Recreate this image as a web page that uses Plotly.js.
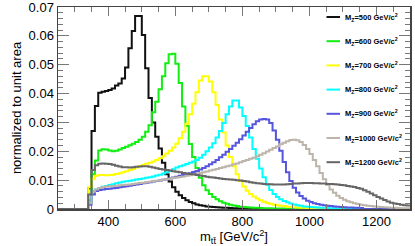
<!DOCTYPE html>
<html>
<head>
<meta charset="utf-8">
<script src="https://cdn.plot.ly/plotly-3.0.1.min.js"></script>
<style>html,body{margin:0;padding:0;background:#fff;}#chart{width:415px;height:246px;}</style>
</head>
<body>
<div id="chart"></div>
<script>
// ---- data ----
const histLow = 250;          // GeV, first bin edge of the histogram
const histHigh = 1300;        // GeV, last bin edge
const binWidth = 10;          // GeV
const firstFilled = 340;      // GeV, first bin that holds data below

const masses = [500, 600, 700, 800, 900, 1000, 1200];
const xTicks = [400, 600, 800, 1000, 1200];
const yTicks = [0, 0.01, 0.02, 0.03, 0.04, 0.05, 0.06, 0.07];
const yTickText = ['0', '0.01', '0.02', '0.03', '0.04', '0.05', '0.06', '0.07'];

const h500 = [0.0072,0.027,0.0357,0.0403,0.0406,0.0409,0.0412,0.0418,0.0428,0.0435,
  0.0452,0.049,0.0557,0.0617,0.0669,0.0669,0.0603,0.0488,0.0385,0.030,
  0.025,0.021,0.016,0.012,0.0095,0.0075,0.006,0.0048,0.0038,0.003,
  0.0024,0.002,0.0016,0.0013,0.0011,0.0009,0.0008,0.0007,0.0006,0.0005,
  0.00045,0.0004,0.00035,0.0003,0.00027,0.00024,0.00021,0.00019,0.00017,0.00015];

const h600 = [0.003,0.012,0.0168,0.0203,0.0207,0.0206,0.0203,0.0200,0.0202,0.0206,
  0.0211,0.0216,0.0221,0.0226,0.0232,0.0240,0.0250,0.0268,0.0290,0.0335,
  0.0372,0.0415,0.046,0.0505,0.0536,0.0538,0.0503,0.0437,0.0355,0.0288,
  0.0225,0.018,0.0142,0.0108,0.0082,0.0065,0.0052,0.0042,0.0034,0.0027,
  0.0022,0.0018,0.0015,0.0012,0.001,0.0008,0.0007,0.0006,0.0005,0.00045,
  0.0004,0.00035,0.0003,0.00027,0.00024,0.0002,0.00018,0.00016,0.00014,0.00012];

const h700 = [0.0075,0.0105,0.0115,0.0118,0.0118,0.0117,0.0118,0.0119,0.0121,0.0124,
  0.0127,0.0131,0.0135,0.0139,0.0144,0.0149,0.0153,0.0157,0.016,0.0165,
  0.017,0.0176,0.0183,0.0192,0.0202,0.0213,0.0226,0.0245,0.0268,0.0295,
  0.0328,0.0365,0.0405,0.0445,0.046,0.046,0.0442,0.0405,0.036,0.031,
  0.0265,0.022,0.018,0.0148,0.012,0.0097,0.0078,0.0063,0.0052,0.0043,
  0.0036,0.003,0.0025,0.0021,0.0018,0.0015,0.0013,0.0011,0.001,0.0008,
  0.0007,0.0006,0.0005,0.00045,0.0004,0.00035,0.0003,0.00025];

const h800 = [0.002,0.0063,0.0068,0.0073,0.0077,0.008,0.0083,0.0086,0.0089,0.0092,
  0.0094,0.0096,0.0098,0.01,0.0102,0.0104,0.0106,0.0108,0.011,0.0113,
  0.0116,0.0119,0.0123,0.0127,0.0132,0.0138,0.0144,0.0148,0.0152,0.0156,
  0.016,0.0165,0.017,0.0178,0.0188,0.02,0.0213,0.0228,0.0248,0.027,
  0.0298,0.0328,0.0355,0.0376,0.0376,0.0352,0.0322,0.0288,0.0248,0.0208,
  0.0174,0.014,0.011,0.0085,0.0066,0.0052,0.0042,0.0034,0.0028,0.0023,
  0.0019,0.0016,0.0013,0.0011,0.0009,0.0008,0.0007,0.0006,0.0005,0.00045,
  0.0004,0.00035,0.0003,0.00025];

const h900 = [0.0015,0.005,0.0062,0.0066,0.0068,0.0069,0.007,0.0072,0.0073,0.0075,
  0.0077,0.0079,0.0081,0.0083,0.0085,0.0087,0.0089,0.0091,0.0093,0.0095,
  0.0097,0.0099,0.0101,0.0103,0.0106,0.0109,0.0112,0.0115,0.0118,0.0121,
  0.0124,0.0128,0.0132,0.0137,0.0142,0.0148,0.0155,0.0162,0.017,0.0179,
  0.0188,0.0198,0.0208,0.0219,0.023,0.0242,0.0255,0.0268,0.0281,0.0294,
  0.0304,0.031,0.0312,0.031,0.0298,0.0272,0.024,0.0202,0.0163,0.0127,
  0.0097,0.0074,0.0057,0.0045,0.0036,0.0029,0.0024,0.002,0.0017,0.0015,
  0.0013,0.0011,0.001,0.0009,0.0008,0.0007,0.0006,0.00055,0.0005,0.00045,
  0.0004,0.00035];

const h1000 = [0.002,0.006,0.0068,0.0073,0.0076,0.0078,0.0079,0.008,0.0081,0.0082,
  0.0083,0.0084,0.0085,0.0087,0.0088,0.009,0.0091,0.0093,0.0094,0.0096,
  0.0098,0.01,0.0101,0.0103,0.0105,0.0107,0.0109,0.0111,0.0113,0.0115,
  0.0117,0.012,0.0122,0.0125,0.0127,0.013,0.0133,0.0136,0.0139,0.0142,
  0.0145,0.0148,0.0151,0.0155,0.0158,0.0162,0.0166,0.017,0.0174,0.0178,
  0.0183,0.0188,0.0193,0.0199,0.0205,0.0211,0.0217,0.0224,0.023,0.0235,
  0.0239,0.024,0.0238,0.0232,0.0222,0.0208,0.0191,0.017,0.0148,0.0125,
  0.0103,0.0084,0.0068,0.0056,0.0046,0.0038,0.0032,0.0027,0.0023,0.002,
  0.0017,0.0015,0.0013,0.0011,0.001,0.0009,0.0008,0.0007,0.0006,0.0005,
  0.00045,0.0004,0.00035,0.0003,0.0003,0.00025];

const h1200 = [0.005,0.0135,0.0152,0.0157,0.0158,0.0157,0.0156,0.0153,0.015,0.0147,
  0.0145,0.0145,0.0144,0.0145,0.0146,0.0147,0.0148,0.0148,0.0146,0.0144,
  0.0141,0.0139,0.0137,0.0135,0.0133,0.0131,0.0129,0.0127,0.0125,0.0123,
  0.0121,0.012,0.0118,0.0116,0.0114,0.0112,0.011,0.0109,0.0107,0.0106,
  0.0104,0.0103,0.0102,0.0101,0.01,0.0099,0.0097,0.0095,0.0093,0.0091,
  0.0089,0.0088,0.0087,0.0086,0.0086,0.0085,0.0085,0.0085,0.0085,0.0086,
  0.0087,0.0088,0.0088,0.0089,0.009,0.009,0.009,0.0089,0.0089,0.0088,
  0.0088,0.0087,0.0087,0.0086,0.0085,0.0083,0.0082,0.008,0.0078,0.0076,
  0.0073,0.007,0.0065,0.006,0.0054,0.0048,0.0042,0.0036,0.0031,0.0026,
  0.0022,0.0019,0.0017,0.0015,0.0013,0.0012];

const series = [h500, h600, h700, h800, h900, h1000, h1200];
const colors = ['#111111', '#11ee11', '#ffff00', '#00ffff', '#5555dd', '#bdb4aa', '#666666'];

// ---- build step histograms ----
const nBins = Math.round((histHigh - histLow) / binWidth);
const edges = [];
for (let i = 0; i <= nBins; i++) edges.push(histLow + i * binWidth);
const offset = Math.round((firstFilled - histLow) / binWidth);

const traces = series.map((vals, k) => {
  const y = [];
  for (let i = 0; i < nBins; i++) {
    const j = i - offset;
    y.push(j >= 0 && j < vals.length ? vals[j] : 0);
  }
  y.push(y[y.length - 1]);
  return {
    type: 'scatter', mode: 'lines', x: edges, y: y,
    line: {shape: 'hv', color: colors[k], width: 2},
    showlegend: false, hoverinfo: 'skip'
  };
});

// ---- legend (drawn as shapes + annotations) ----
const L = 58, R = 5, T = 7, B = 37, W = 415, H = 246;
const pw = W - L - R, ph = H - T - B;
const px2x = p => (p - L) / pw;
const py2y = p => (H - B - p) / ph;
const shapes = [], annotations = [];
masses.forEach((m, i) => {
  const yp = 17 + i * 24.2;
  shapes.push({type: 'line', xref: 'paper', yref: 'paper',
    x0: px2x(326.5), x1: px2x(340), y0: py2y(yp), y1: py2y(yp),
    line: {color: colors[i], width: 2}});
  annotations.push({xref: 'paper', yref: 'paper', x: px2x(342.5), y: py2y(yp),
    xanchor: 'left', yanchor: 'middle', showarrow: false,
    text: '<b>M<sub>Z</sub>=' + m + ' GeV/c<sup>2</sup></b>',
    font: {family: 'Liberation Sans, Arial, sans-serif', size: 7.5, color: '#000'}});
});

const font = {family: 'Liberation Sans, Arial, sans-serif', size: 13, color: '#000'};
const layout = {
  width: W, height: H,
  margin: {l: L, r: R, t: T, b: B, pad: 0},
  paper_bgcolor: '#fff', plot_bgcolor: '#fff',
  font: font,
  showlegend: false,
  xaxis: {
    range: [histLow, histHigh], tickmode: 'array', tickvals: xTicks,
    ticks: 'inside', ticklen: 9, tickwidth: 1, tickcolor: '#777',
    minor: {dtick: 50, ticks: 'inside', ticklen: 5, tickcolor: '#777', tickwidth: 1},
    showline: true, linecolor: '#444', linewidth: 1.5, mirror: 'allticks',
    showgrid: false, zeroline: false, tickfont: font, ticklabeloverflow: 'allow',
    title: {text: 'm<sub>tt\u0304</sub> [GeV/c<sup>2</sup>]', font: font, standoff: 2}
  },
  yaxis: {
    range: [0, 0.07], tickmode: 'array', tickvals: yTicks, ticktext: yTickText,
    ticks: 'inside', ticklen: 11, tickwidth: 1, tickcolor: '#777',
    minor: {dtick: 0.002, tick0: 0, ticks: 'inside', ticklen: 5, tickcolor: '#777', tickwidth: 1},
    showline: true, linecolor: '#444', linewidth: 1.5, mirror: 'allticks',
    showgrid: false, zeroline: false, tickfont: font, ticklabeloverflow: 'allow',
    title: {text: 'normalized to unit area', font: font, standoff: 4}
  },
  shapes: shapes,
  annotations: annotations
};

Plotly.newPlot('chart', traces, layout, {staticPlot: true, displayModeBar: false});
</script>
</body>
</html>
